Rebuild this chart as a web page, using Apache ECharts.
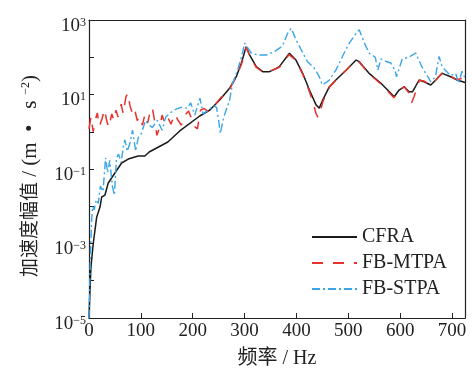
<!DOCTYPE html>
<html>
<head>
<meta charset="utf-8">
<script src="https://cdn.jsdelivr.net/npm/echarts@6/dist/echarts.min.js"></script>
<style>html,body{margin:0;padding:0;background:#fff}#c{width:472px;height:368px}</style>
</head>
<body>
<div id="c"></div>
<script>
// ---- data (frequency in Hz, acceleration amplitude in m/s^2) ----
const seriesNames = ['CFRA', 'FB-MTPA', 'FB-STPA'];
const xTicks = [0, 100, 200, 300, 400, 500, 600, 700];
const yTickExponents = [-5, -3, -1, 1, 3];

const cfraFreq = [0, 1.9, 3.8, 8.3, 14.8, 21.2, 24.4, 30.8, 37.1, 50, 62.9, 75.6, 94.8, 107.7, 116, 152, 175, 213.5, 233, 252, 271, 284, 293.7, 303, 309.6, 322.5, 335, 348, 361, 367, 386.5, 399, 412, 425, 438, 444, 450.6, 463.5, 476, 495.6, 515, 521, 540, 563, 588.5, 598, 608, 617, 624, 636.5, 646, 659, 668.7, 681, 697.5, 710, 725];
const cfraVal = [1e-5, 5.65e-5, 2.34e-4, 1.03e-3, 5.1e-3, 9.5e-3, 0.0177, 0.020, 0.042, 0.078, 0.145, 0.185, 0.223, 0.223, 0.286, 0.53, 1.05, 2.65, 3.84, 7.1, 14.7, 30, 69, 192, 115, 56, 41, 41, 50, 56, 128, 84, 37, 13.2, 5.2, 4.3, 7.1, 16.2, 24.5, 45, 84, 76, 37, 20, 8.7, 13.2, 16.2, 11.9, 11.9, 24.5, 22, 18, 24.5, 37, 30, 24.5, 21];

const mtpaFreq = [0, 4, 8, 12, 16, 20, 25, 30, 34, 38, 44, 48, 52, 56, 62, 66, 71, 75, 79, 84, 88, 93, 98, 103, 108, 113, 118, 122, 127, 131, 136, 141, 146, 152, 158, 165, 172, 178, 185, 192, 198, 203, 209, 215, 222, 230, 238, 246, 255, 263, 271, 284, 294, 303, 310, 322, 335, 348, 361, 367, 386, 399, 412, 425, 432, 438, 442, 446, 451, 464, 476, 496, 515, 521, 540, 563, 588, 598, 608, 617, 622, 627, 637, 646, 659, 669, 681, 698, 710, 718, 725];
const mtpaVal = [1.2, 2.6, 1.0, 2.0, 3.2, 1.4, 2.2, 4.0, 2.0, 1.3, 3.0, 2.0, 3.8, 2.5, 5.5, 3.0, 8.5, 11, 5, 3.0, 4.0, 2.0, 2.6, 1.5, 3.0, 1.7, 3.5, 4.5, 1.8, 0.8, 1.3, 2.8, 1.7, 2.4, 1.6, 3.0, 2.0, 1.5, 2.8, 3.6, 2.2, 1.4, 1.2, 3.8, 4.2, 3.5, 4.5, 6, 8.5, 10, 14, 30, 65, 185, 110, 54, 40, 42, 50, 54, 118, 82, 35, 12, 6, 3.0, 2.4, 3.5, 6.5, 16, 24, 45, 82, 74, 36, 19, 8.2, 13, 16, 11, 6, 9, 24, 23, 18, 25, 38, 30, 25, 27, 23];

const stpaFreq = [0, 1.5, 3, 5, 7, 10, 14, 18, 22, 27, 32, 36, 40, 45, 49, 53, 57, 62, 66, 69, 74, 79, 84, 90, 95, 101, 109, 115, 122, 132, 141, 148, 158, 167, 177, 190, 196, 204, 214, 220, 232, 240, 246, 250, 253, 255, 260, 265, 271, 277, 287, 296, 300, 313, 325, 342, 357, 373, 383, 390, 399, 409, 421, 434, 444, 450, 463, 476, 492, 502, 515, 521, 531, 540, 552, 557, 563, 573, 582, 590, 593, 604, 617, 630, 642, 652, 659, 668, 675, 681, 697, 707, 713, 719, 725];
const stpaVal = [1e-5, 1e-4, 6e-4, 0.004, 0.01, 0.008, 0.015, 0.012, 0.035, 0.025, 0.2, 0.08, 0.17, 0.035, 0.02, 0.2, 0.25, 0.15, 0.38, 0.6, 0.3, 0.5, 1.1, 0.3, 0.7, 0.9, 2.0, 1.6, 1.3, 2.0, 1.1, 2.5, 3.3, 4.0, 4.5, 4.3, 6, 2.8, 8, 3, 4, 5, 4.5, 2.0, 0.9, 1.2, 2.5, 4, 7, 20, 47, 130, 240, 130, 115, 115, 140, 200, 440, 600, 300, 160, 77, 52, 30, 18, 24, 45, 130, 240, 440, 550, 240, 130, 100, 45, 90, 77, 70, 45, 30, 90, 100, 130, 55, 32, 22, 30, 105, 55, 32, 37, 20, 42, 28];

const zip = (xs, ys) => xs.map((x, i) => [x, ys[i]]);
const SERIF = "'Liberation Serif', 'Times New Roman', 'Noto Sans CJK SC', serif";
const fmtExp = e => (e < 0 ? '\u2212' + (-e) : String(e));
const AX = '#222';

const chart = echarts.init(document.getElementById('c'), null, {renderer: 'canvas'});
chart.setOption({
  animation: false,
  textStyle: {fontFamily: SERIF, color: AX},
  grid: {left: 89, right: 7, top: 20, bottom: 50, containLabel: false, outerBoundsMode: 'none'},
  legend: {
    data: seriesNames,
    orient: 'vertical',
    left: 311, top: 227,
    padding: 0,
    itemWidth: 45, itemHeight: 12, itemGap: 6,
    itemStyle: {opacity: 0},
    textStyle: {fontFamily: SERIF, fontSize: 20, color: AX, lineHeight: 20}
  },
  xAxis: [{
    type: 'value', min: 0, max: 725, interval: 100,
    name: '频率 / Hz', nameLocation: 'middle', nameGap: 31,
    nameTextStyle: {fontFamily: SERIF, fontSize: 20, color: AX},
    axisLine: {lineStyle: {color: AX, width: 1.2}},
    axisTick: {inside: true, length: 5, lineStyle: {color: AX}},
    axisLabel: {fontFamily: SERIF, fontSize: 19, color: AX, margin: 4, showMaxLabel: false,
      formatter: v => (xTicks.indexOf(v) >= 0 ? String(v) : '')},
    splitLine: {show: false}
  }, {
    type: 'value', position: 'top', min: 0, max: 725,
    axisLine: {show: true, onZero: false, lineStyle: {color: AX, width: 1.2}},
    axisTick: {show: false}, axisLabel: {show: false}, splitLine: {show: false}
  }],
  yAxis: [{
    type: 'log', logBase: 10, min: 1e-5, max: 1e3,
    name: '{a|加速度幅值}{c| / (m  •   s}{s|  \u22122}{c|)}', nameLocation: 'middle', nameGap: 48,
    nameTextStyle: {fontFamily: SERIF, color: AX, padding: [0, 14, 0, 0],
      rich: {a: {fontSize: 19, fontFamily: SERIF, verticalAlign: 'bottom'},
             c: {fontSize: 21, fontFamily: SERIF, verticalAlign: 'bottom'},
             s: {fontSize: 12, fontFamily: SERIF, verticalAlign: 'top'}}},
    axisLine: {show: true, lineStyle: {color: AX, width: 1.2}},
    axisTick: {inside: true, length: 5, lineStyle: {color: AX}},
    axisLabel: {
      margin: 3, color: AX, padding: [12, 0, 0, 0],
      formatter: v => {
        const e = Math.round(Math.log10(v));
        if (yTickExponents.indexOf(e) < 0) return '';
        return '{b|10}{s|' + fmtExp(e) + '}';
      },
      rich: {b: {fontSize: 19, fontFamily: SERIF, color: AX, verticalAlign: 'bottom'},
             s: {fontSize: 12, fontFamily: SERIF, color: AX, verticalAlign: 'top'}}
    },
    splitLine: {show: false}
  }, {
    type: 'log', logBase: 10, min: 1e-5, max: 1e3, position: 'right',
    axisLine: {show: true, onZero: false, lineStyle: {color: AX, width: 1.2}},
    axisTick: {show: false}, axisLabel: {show: false}, splitLine: {show: false}
  }],
  series: [
    {name: seriesNames[0], type: 'line', symbol: 'none', data: zip(cfraFreq, cfraVal),
     lineStyle: {color: '#1a1a1a', width: 1.5}, itemStyle: {color: '#1a1a1a'}, z: 3},
    {name: seriesNames[1], type: 'line', symbol: 'none', data: zip(mtpaFreq, mtpaVal),
     lineStyle: {color: '#e8322c', width: 1.5, type: [11, 10]}, itemStyle: {color: '#e8322c'}, z: 4},
    {name: seriesNames[2], type: 'line', symbol: 'none', data: zip(stpaFreq, stpaVal),
     lineStyle: {color: '#3aa5e8', width: 1.4, type: [8, 3, 2, 3]}, itemStyle: {color: '#3aa5e8'}, z: 5}
  ]
});
</script>
</body>
</html>
